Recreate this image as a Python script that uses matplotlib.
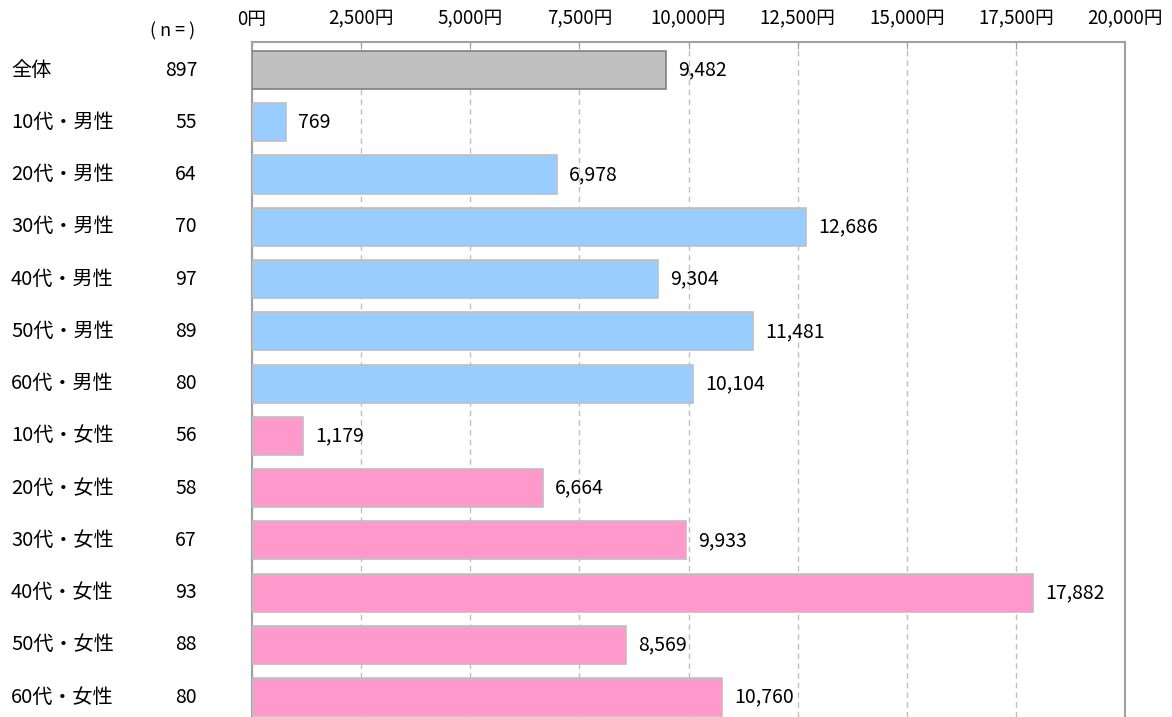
import matplotlib
matplotlib.use("Agg")
import matplotlib.pyplot as plt
import matplotlib.transforms as mtransforms
import numpy as np

plt.rcParams["font.family"] = ["Noto Sans CJK JP", "DejaVu Sans"]

categories = ["全体", "10代・男性", "20代・男性", "30代・男性", "40代・男性", "50代・男性", "60代・男性",
              "10代・女性", "20代・女性", "30代・女性", "40代・女性", "50代・女性", "60代・女性"]
n_counts = [897, 55, 64, 70, 97, 89, 80, 56, 58, 67, 93, 88, 80]
amounts = [9482, 769, 6978, 12686, 9304, 11481, 10104, 1179, 6664, 9933, 17882, 8569, 10760]
groups = ["all"] + ["male"] * 6 + ["female"] * 6
x_ticks = [0, 2500, 5000, 7500, 10000, 12500, 15000, 17500, 20000]

face = {"all": "#C0C0C0", "male": "#99CCFF", "female": "#FF99CC"}
edge = {"all": "#808080", "male": "#BFBFBF", "female": "#BFBFBF"}

fig = plt.figure(figsize=(11.72, 7.17), dpi=100)
ax = fig.add_axes([252 / 1172, 0.0, (1125 - 252) / 1172, (717 - 42) / 717])

y = np.arange(len(categories))
ax.barh(y, amounts, height=0.73,
        color=[face[g] for g in groups],
        edgecolor=[edge[g] for g in groups], linewidth=1.2, zorder=3)

for yi, v in zip(y, amounts):
    ax.text(v + 280, yi, f"{v:,}", va="center", ha="left", fontsize=14, zorder=4)

ax.set_xlim(0, 20000)
ax.set_ylim(12.38, -0.536)

ax.xaxis.tick_top()
ax.set_xticks(x_ticks)
ax.set_xticklabels([f"{t:,}円" for t in x_ticks], fontsize=13.5)
ax.tick_params(axis="x", direction="in", length=5, color="#A0A0A0", pad=9)
ax.tick_params(axis="y", left=False, labelleft=False)
ax.grid(axis="x", color="#BFBFBF", linestyle=(0, (4, 3)), linewidth=1, zorder=0)

for side in ["top", "left", "right"]:
    ax.spines[side].set_color("#A0A0A0")
    ax.spines[side].set_linewidth(1.5)
ax.spines["bottom"].set_visible(False)

# category names and sample sizes to the left of the plot
row_trans = mtransforms.blended_transform_factory(fig.transFigure, ax.transData)
for yi, name, n in zip(y, categories, n_counts):
    ax.text(11 / 1172, yi, name, transform=row_trans, va="center", ha="left", fontsize=14.5)
    ax.text(197 / 1172, yi, str(n), transform=row_trans, va="center", ha="right", fontsize=14)
fig.text(195 / 1172, 1 - 31 / 717, "( n = )", va="center", ha="right", fontsize=13)

fig.savefig("out.png", dpi=100)
